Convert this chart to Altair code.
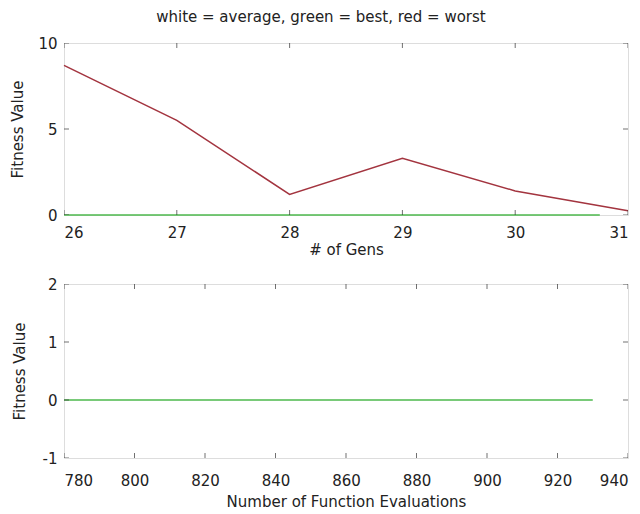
import altair as alt
import pandas as pd

# data
gens = [26, 27, 28, 29, 30, 31]
worst = [8.7, 5.5, 1.2, 3.3, 1.4, 0.25]
best_gens = [26, 30.75]
best_vals = [0, 0]
evals = [780, 930]
evals_best = [0, 0]

gen_ticks = [26, 27, 28, 29, 30, 31]
fit_ticks_top = [0, 5, 10]
eval_ticks = [780, 800, 820, 840, 860, 880, 900, 920, 940]
fit_ticks_bot = [-1, 0, 1, 2]

FONT = "DejaVu Sans"
FS = 15
W = 564
H1 = 172
H2 = 174
FRAME = "#333333"
RED = "#a3343f"
GREEN = "#4cb84c"

df_worst = pd.DataFrame({"x": gens, "y": worst})
df_best = pd.DataFrame({"x": best_gens, "y": best_vals})
df_eb = pd.DataFrame({"x": evals, "y": evals_best})


def ticks_layers(xticks, yticks, xscale, yscale, h):
    dx = pd.DataFrame({"t": xticks})
    dy = pd.DataFrame({"t": yticks})
    layers = []
    for yv in [0, h]:
        layers.append(
            alt.Chart(dx).mark_tick(size=10, thickness=1, color=FRAME, clip=True, orient="vertical").encode(
                x=alt.X("t:Q", scale=xscale), y=alt.value(yv)
            )
        )
    for xv in [0, W]:
        layers.append(
            alt.Chart(dy).mark_tick(size=10, thickness=1, color=FRAME, clip=True, orient="horizontal").encode(
                y=alt.Y("t:Q", scale=yscale), x=alt.value(xv)
            )
        )
    return layers


ax_common = dict(
    labelFont=FONT, titleFont=FONT, labelFontSize=FS, titleFontSize=FS,
    titleFontWeight="normal", labelColor="#222", titleColor="#222",
    grid=False, domain=False, ticks=False, labelExpr="'' + datum.value",
)
ax_y = dict(ax_common, labelPadding=7)

xs1 = alt.Scale(domain=[26, 31], nice=False, zero=False)
ys1 = alt.Scale(domain=[0, 10], nice=False)

top = alt.layer(
    alt.Chart(df_best).mark_line(color=GREEN, strokeWidth=1.5).encode(
        x=alt.X("x:Q", scale=xs1, axis=alt.Axis(values=gen_ticks, title="# of Gens", labelPadding=10, titlePadding=2, **ax_common)),
        y=alt.Y("y:Q", scale=ys1, axis=alt.Axis(values=fit_ticks_top, title="Fitness Value", titlePadding=12, **ax_y)),
    ),
    alt.Chart(df_worst).mark_line(color=RED, strokeWidth=1.5).encode(
        x=alt.X("x:Q", scale=xs1), y=alt.Y("y:Q", scale=ys1)
    ),
    *ticks_layers(gen_ticks, fit_ticks_top, xs1, ys1, H1),
).properties(width=W, height=H1)

xs2 = alt.Scale(domain=[780, 940], nice=False, zero=False)
ys2 = alt.Scale(domain=[-1, 2], nice=False)

bottom = alt.layer(
    alt.Chart(df_eb).mark_line(color=GREEN, strokeWidth=1.5).encode(
        x=alt.X("x:Q", scale=xs2, axis=alt.Axis(values=eval_ticks, title="Number of Function Evaluations", labelPadding=15, titlePadding=6, **ax_common)),
        y=alt.Y("y:Q", scale=ys2, axis=alt.Axis(values=fit_ticks_bot, title="Fitness Value", titlePadding=15, **ax_y)),
    ),
    *ticks_layers(eval_ticks, fit_ticks_bot, xs2, ys2, H2),
).properties(width=W, height=H2)

chart = alt.vconcat(top, bottom, spacing=18).resolve_scale(x="independent", y="independent").properties(
    title=alt.Title("white = average, green = best, red = worst", font=FONT, fontSize=FS,
                    fontWeight="normal", color="#222", anchor="middle", offset=11),
    padding={"left": 10, "top": 9, "right": 5, "bottom": 0},
).configure_view(stroke=FRAME, strokeWidth=1.5).configure(background="white")

chart.save("out.html", embed_options={"renderer": "svg", "actions": False})
